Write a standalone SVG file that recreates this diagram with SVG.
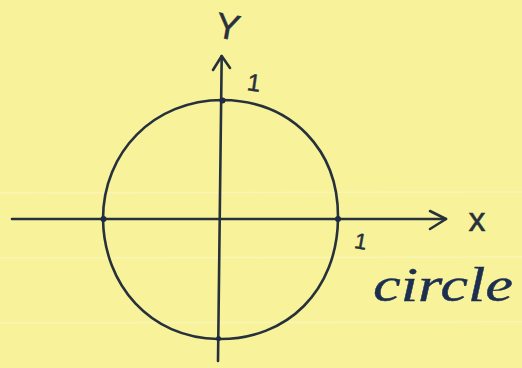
<svg xmlns="http://www.w3.org/2000/svg" width="522" height="368" viewBox="0 0 522 368">
<style>
.ink{fill:none;stroke:#27313c;stroke-width:2.6;stroke-linecap:round;stroke-linejoin:round}
.rule{stroke:#fbf8c8;stroke-width:1.5;opacity:0.6}
.lbl{font-family:"Liberation Sans","DejaVu Sans",sans-serif;fill:#27313c;stroke:#27313c;stroke-width:0.5}
.dot{fill:#1f2a44}
</style>
<rect width="522" height="368" fill="#f8f39a"/>
<g id="paper-rules">
<line class="rule" x1="0" y1="193" x2="522" y2="192"/>
<line class="rule" x1="0" y1="258" x2="522" y2="257"/>
<line class="rule" x1="0" y1="323" x2="522" y2="322"/>
</g>
<g id="circle">
<path class="ink" d="M222.5,100 C292,101 339,150 338,219 C337,290 288,340 218,339 C150,338 104,285 103,219 C103,152 154,100 222.5,100 Z"/>
</g>
<g id="connectors">
<g id="x-axis">
<line class="ink" x1="12" y1="219" x2="446" y2="219"/>
<polyline class="ink" points="430,211 446,219 430,229"/>
</g>
<g id="y-axis">
<line class="ink" x1="221.7" y1="56" x2="218" y2="361"/>
<polyline class="ink" points="213,70 221.7,56 230,68"/>
</g>
</g>
<g id="points">
<circle class="dot" cx="222.5" cy="100.5" r="3"/>
<circle class="dot" cx="103.5" cy="219" r="3"/>
<circle class="dot" cx="338" cy="219" r="3"/>
<circle class="dot" cx="218.5" cy="338.5" r="2.5"/>
</g>
<g id="labels">
<text class="lbl" x="228" y="39" font-size="36" text-anchor="middle" transform="rotate(10 228 26)">Y</text>
<text class="lbl" x="254" y="91" font-size="24" text-anchor="middle" transform="rotate(8 254 82)">1</text>
<text class="lbl" x="477" y="231" font-size="34" text-anchor="middle">x</text>
<text class="lbl" x="361" y="249" font-size="22" text-anchor="middle" transform="rotate(10 361 240)">1</text>
<text x="373" y="301" font-family="'Liberation Serif','DejaVu Serif',serif" font-style="italic" font-size="48" fill="#1d2f50" stroke="#1d2f50" stroke-width="0.4" textLength="140" lengthAdjust="spacingAndGlyphs">circle</text>
</g>
</svg>
